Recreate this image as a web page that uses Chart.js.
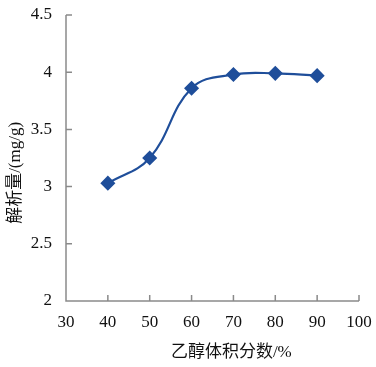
<!DOCTYPE html>
<html><head><meta charset="utf-8">
<script src="https://cdn.jsdelivr.net/npm/chart.js@4"></script>
<style>html,body{margin:0;padding:0;background:#fff}#w{width:376px;height:367px}</style>
</head><body><div id="w"><canvas id="c"></canvas></div>
<script>
const xValues = [40, 50, 60, 70, 80, 90];
const yValues = [3.03, 3.25, 3.86, 3.98, 3.99, 3.97];
const xTickValues = [30, 40, 50, 60, 70, 80, 90, 100];
const yTickValues = [2, 2.5, 3, 3.5, 4, 4.5];
const xTitle = '乙醇体积分数/%';
const yTitle = '解析量/(mg/g)';

const FONT = '"Liberation Serif", "Times New Roman", serif';
const CJK = '"Liberation Serif", "Noto Sans CJK SC", serif';

const axesPlugin = {
  id: 'axesPlugin',
  afterDraw(chart) {
    const ctx = chart.ctx, x = chart.scales.x, y = chart.scales.y;
    const a = chart.chartArea;
    ctx.save();
    ctx.strokeStyle = '#8a8a8a';
    ctx.lineWidth = 1.5;
    ctx.beginPath();
    ctx.moveTo(a.left, a.top); ctx.lineTo(a.left, a.bottom); ctx.lineTo(a.right, a.bottom);
    xTickValues.forEach(v => { const px = x.getPixelForValue(v); ctx.moveTo(px, a.bottom); ctx.lineTo(px, a.bottom - 6); });
    yTickValues.forEach(v => { const py = y.getPixelForValue(v); ctx.moveTo(a.left, py); ctx.lineTo(a.left + 6, py); });
    ctx.stroke();
    ctx.fillStyle = '#111';
    ctx.font = '17px ' + FONT;
    ctx.textAlign = 'center'; ctx.textBaseline = 'middle';
    xTickValues.forEach(v => ctx.fillText(String(v), x.getPixelForValue(v), a.bottom + 22));
    ctx.textAlign = 'right';
    yTickValues.forEach(v => ctx.fillText(String(v), a.left - 14, y.getPixelForValue(v)));
    ctx.textAlign = 'center';
    ctx.font = '17px ' + CJK;
    ctx.fillText(xTitle, x.getPixelForValue(69.5), 353);
    ctx.translate(16, y.getPixelForValue(3.12));
    ctx.rotate(-Math.PI / 2);
    ctx.fillText(yTitle, 0, 0);
    ctx.restore();
  }
};

new Chart(document.getElementById('c'), {
  type: 'line',
  data: {
    datasets: [{
      data: xValues.map((v, i) => ({x: v, y: yValues[i]})),
      borderColor: '#1f4e9a',
      backgroundColor: '#1f4e9a',
      borderWidth: 2.2,
      pointStyle: 'rectRot',
      pointRadius: 6,
      tension: 0.4,
      fill: false
    }]
  },
  options: {
    responsive: true,
    maintainAspectRatio: false,
    animation: false,
    layout: { padding: { top: 15, right: 17, left: 0, bottom: 0 } },
    plugins: { legend: { display: false }, tooltip: { enabled: false } },
    scales: {
      x: {
        type: 'linear', min: 30, max: 100,
        grid: { display: false, drawTicks: false },
        border: { display: false },
        ticks: { display: false },
        afterFit(s) { s.height = 66; }
      },
      y: {
        type: 'linear', min: 2, max: 4.5,
        grid: { display: false, drawTicks: false },
        border: { display: false },
        ticks: { display: false },
        afterFit(s) { s.width = 66; }
      }
    }
  },
  plugins: [axesPlugin]
});
</script></body></html>
